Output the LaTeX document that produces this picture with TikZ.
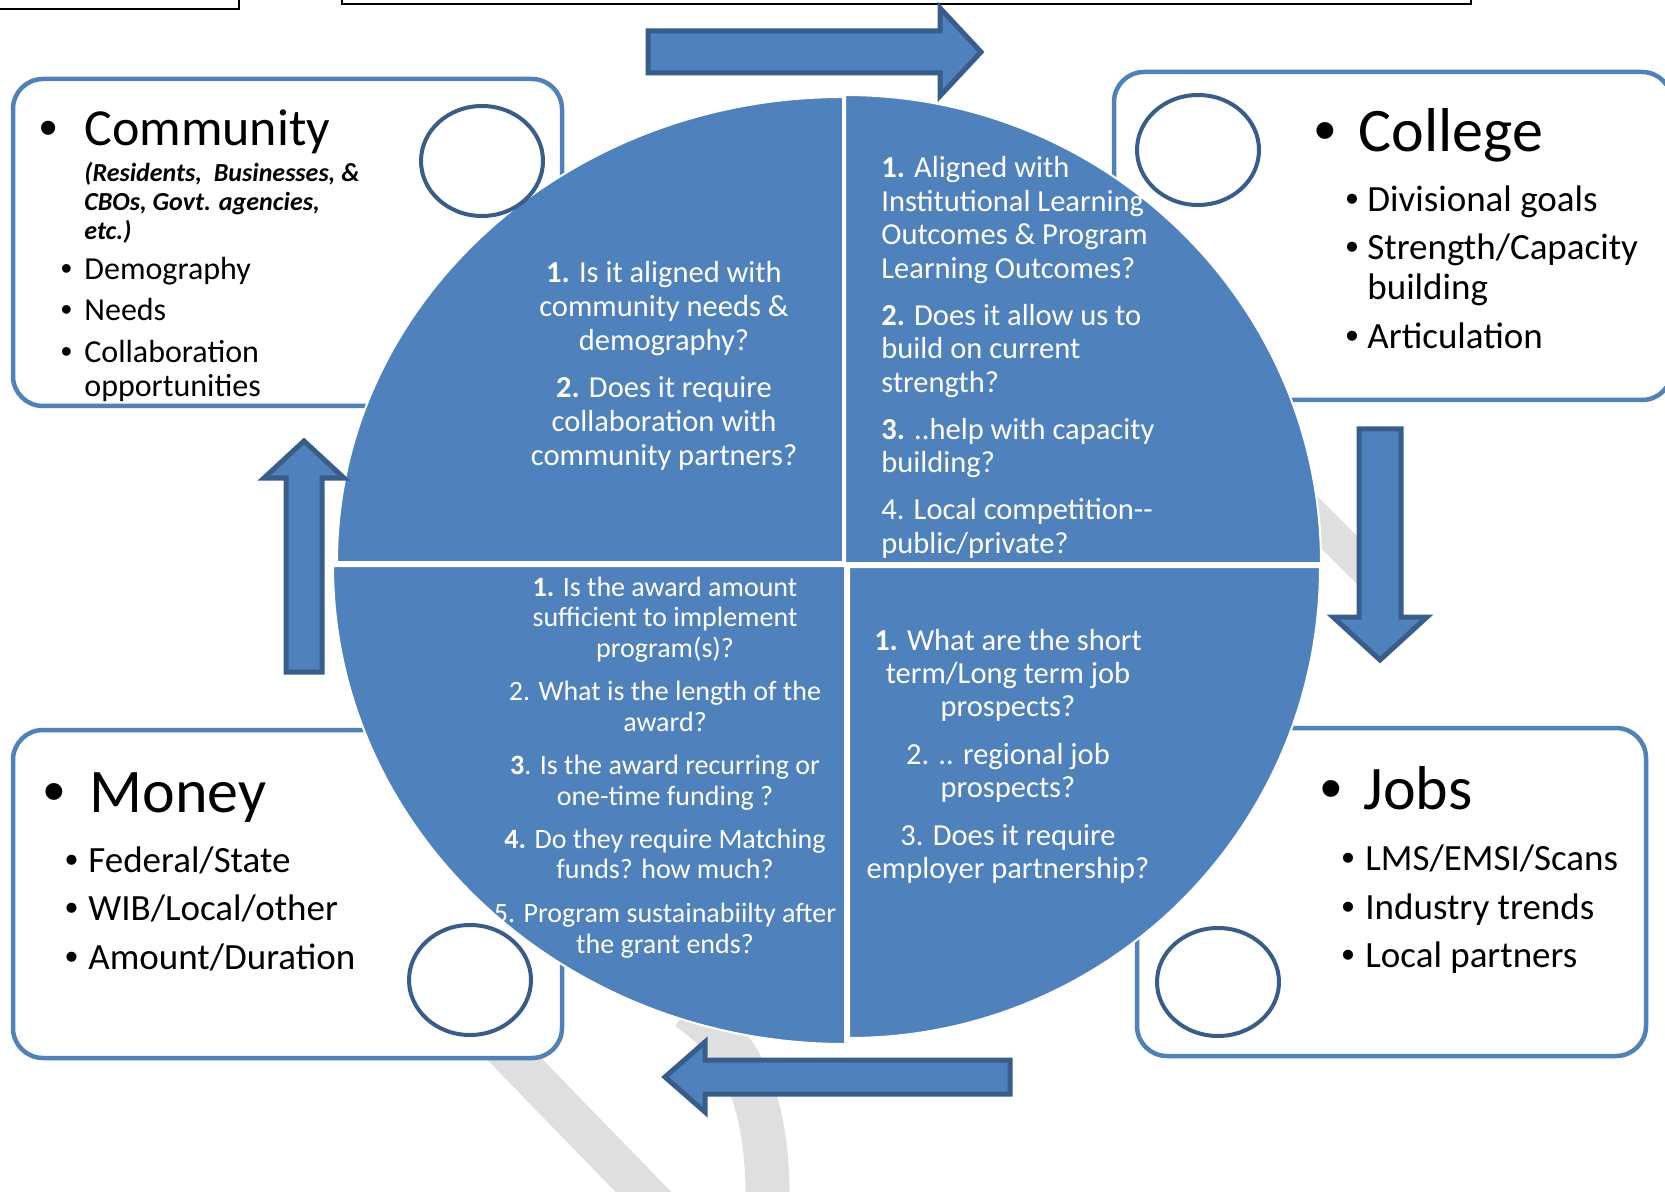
\documentclass[tikz,border=0pt]{standalone}
\usepackage{fontspec}
\setmainfont{Carlito}
\newfontfamily\bulletfont{Liberation Sans}
\usepackage{xcolor}
\definecolor{pieblue}{HTML}{4F81BD}
\definecolor{edgeblue}{HTML}{385D8A}
\definecolor{markgray}{HTML}{DFDFDF}
\newcommand{\qcenter}[1]{\begin{tabular}[t]{@{}c@{}}#1\end{tabular}}
\newcommand{\qleft}[1]{\begin{tabular}[t]{@{}l@{}}#1\end{tabular}}
\tikzset{
  line join=miter,
}
\tikzstyle{every node}=[inner sep=0pt]
\tikzstyle{frame}=[draw=black,line width=1.25pt]
\tikzstyle{box}=[draw=pieblue,line width=2.25pt,fill=white,rounded corners=15pt]
\tikzstyle{ring}=[draw=edgeblue,line width=2pt,fill=white]
\tikzstyle{quad}=[fill=pieblue,draw=white,line width=1pt]
\tikzstyle{blockarrow}=[fill=pieblue,draw=edgeblue,line width=2.5pt]
\tikzstyle{watermark}=[draw=markgray,line width=20pt]
\tikzstyle{head}=[anchor=base west,font=\fontsize{31}{37}\selectfont]
\tikzstyle{bighead}=[anchor=base,font=\bulletfont\fontsize{31}{37}\selectfont]
\tikzstyle{item}=[anchor=base west,font=\fontsize{18.5}{20}\selectfont]
\tikzstyle{itemdot}=[anchor=base,font=\bulletfont\fontsize{18.5}{20}\selectfont]
\tikzstyle{question}=[text=white,font=\fontsize{15.25}{17}\selectfont]

\begin{document}
\begin{tikzpicture}[x=0.5pt,y=-0.5pt]
    \useasboundingbox (0,0) rectangle (1665,1192);
    % watermark, mostly hidden
    \draw[watermark] (395,936) -- (690,1240);
    \draw[watermark,line width=22pt] (688,1008) .. controls (748,1050) and (772,1110) .. (767,1230);
    \draw[watermark,line width=17pt] (1300,503) -- (1385,588);
    % frames cut off at the top
    \draw[frame] (-10,-10) rectangle (239,9);
    \draw[frame] (342,-10) rectangle (1471,4);
    % corner boxes
    \draw[box] (13,79) rectangle (562,406);
    \draw[box] (1114,72) rectangle (1672,400);
    \draw[box] (13,730) rectangle (562,1058);
    \draw[box] (1137,728) rectangle (1646,1056);
    % pie quadrants
    \path[quad] (843,562) -- (337,562) arc[start angle=180,end angle=270,x radius=506,y radius=465] -- cycle;
    \path[quad] (845,563) -- (845,95) arc[start angle=270,end angle=360,x radius=476,y radius=468] -- cycle;
    \path[quad] (845,566) -- (333,566) arc[start angle=180,end angle=90,x radius=512,y radius=478] -- cycle;
    \path[quad] (849,567) -- (1320,567) arc[start angle=0,end angle=90,x radius=471,y radius=471] -- cycle;
    % rings
    \draw[ring] (482,161) ellipse[x radius=61,y radius=55];
    \draw[ring] (1198,150) ellipse[x radius=61,y radius=55];
    \draw[ring] (470,980) ellipse[x radius=61,y radius=55];
    \draw[ring] (1218,982) ellipse[x radius=61,y radius=54];
    % block arrows
    \draw[blockarrow] (648,31) -- (940,31) -- (940,8) -- (981,52) -- (940,96) -- (940,73) -- (648,73) -- cycle;
    \draw[blockarrow] (1359,429) -- (1401,429) -- (1401,617) -- (1427,617) -- (1380,660) -- (1333,617) -- (1359,617) -- cycle;
    \draw[blockarrow] (1010,1060) -- (1010,1094) -- (705,1094) -- (705,1112) -- (665,1077) -- (705,1042) -- (705,1060) -- cycle;
    \draw[blockarrow] (286,672) -- (322,672) -- (322,478) -- (344,478) -- (304,441) -- (264,478) -- (286,478) -- cycle;

    % Community
    \node[anchor=base,font=\bulletfont\fontsize{26}{30}\selectfont] (comm-dot) at (48.5,146) {•};
    \node[anchor=base west,font=\fontsize{26}{30}\selectfont] (comm-head) at (84,146) {Community};
    \node[anchor=base west,font=\bfseries\itshape\fontsize{13}{14.5}\selectfont] (comm-note) at (84,182)
      {\qleft{(Residents,\ \ Businesses, \&\\ CBOs, Govt. agencies,\\ etc.)}};
    \node[anchor=base,font=\bulletfont\fontsize{16}{16.5}\selectfont] (comm-d1) at (66.5,280) {•};
    \node[anchor=base,font=\bulletfont\fontsize{16}{16.5}\selectfont] (comm-d2) at (66.5,321) {•};
    \node[anchor=base,font=\bulletfont\fontsize{16}{16.5}\selectfont] (comm-d3) at (66.5,363) {•};
    \node[anchor=base west,font=\fontsize{16}{16.5}\selectfont] (comm-i1) at (84,280) {Demography};
    \node[anchor=base west,font=\fontsize{16}{16.5}\selectfont] (comm-i2) at (84,321) {Needs};
    \node[anchor=base west,font=\fontsize{16}{17}\selectfont] (comm-i3) at (84,363) {\qleft{Collaboration\\ opportunities}};

    % College
    \node[bighead] (coll-dot) at (1325,152) {•};
    \node[head] (coll-head) at (1358,152) {College};
    \node[itemdot] (coll-d1) at (1352,212) {•};
    \node[itemdot] (coll-d2) at (1352,260) {•};
    \node[itemdot] (coll-d3) at (1352,349) {•};
    \node[item] (coll-i1) at (1367,212) {Divisional goals};
    \node[item] (coll-i2) at (1367,260) {\qleft{Strength/Capacity\\ building}};
    \node[item] (coll-i3) at (1367,349) {Articulation};

    % Money
    \node[bighead] (money-dot) at (54.5,812) {•};
    \node[head] (money-head) at (89,812) {Money};
    \node[itemdot] (money-d1) at (71.5,872) {•};
    \node[itemdot] (money-d2) at (71.5,920) {•};
    \node[itemdot] (money-d3) at (71.5,969) {•};
    \node[item] (money-i1) at (88,872) {Federal/State};
    \node[item] (money-i2) at (88,920) {WIB/Local/other};
    \node[item] (money-i3) at (88,969) {Amount/Duration};

    % Jobs
    \node[bighead] (jobs-dot) at (1331,809) {•};
    \node[head] (jobs-head) at (1363,809) {Jobs};
    \node[itemdot] (jobs-d1) at (1348,870) {•};
    \node[itemdot] (jobs-d2) at (1348,919) {•};
    \node[itemdot] (jobs-d3) at (1348,967) {•};
    \node[item] (jobs-i1) at (1365,870) {LMS/EMSI/Scans};
    \node[item] (jobs-i2) at (1365,919) {Industry trends};
    \node[item] (jobs-i3) at (1365,967) {Local partners};

    % questions in the pie
    \node[question,anchor=base] (q-comm) at (664,283) {\qcenter{\textbf{1.} Is it aligned with\\ community needs \&\\ demography?\\[6.5pt]
      \textbf{2.} Does it require\\ collaboration with\\ community partners?}};
    \node[question,anchor=base west,font=\fontsize{15.25}{16.75}\selectfont] (q-coll) at (881,178) {\qleft{\textbf{1.} Aligned with\\ Institutional Learning\\ Outcomes \& Program\\ Learning Outcomes?\\[6.75pt]
      \textbf{2.} Does it allow us to\\ build on current\\ strength?\\[6.75pt]
      \textbf{3.} ..help with capacity\\ building?\\[6.75pt]
      4. Local competition-{}-\\ public/private?}};
    \node[question,anchor=base,font=\fontsize{14}{15.25}\selectfont] (q-money) at (665,596) {\qcenter{\textbf{1.} Is the award amount\\ sufficient to implement\\ program(s)?\\[6.5pt]
      2. What is the length of the\\ award?\\[6.5pt]
      \textbf{3}. Is the award recurring or\\ one-time funding ?\\[6.5pt]
      \textbf{4.} Do they require Matching\\ funds? how much?\\[6.5pt]
      5. Program sustainabiilty after\\ the grant ends?}};
    \node[question,anchor=base,font=\fontsize{15.25}{16.5}\selectfont] (q-jobs) at (1008,650) {\qcenter{\textbf{1.} What are the short\\ term/Long term job\\ prospects?\\[7.5pt]
      2. .. regional job\\ prospects?\\[7.5pt]
      3. Does it require\\ employer partnership?}};
\end{tikzpicture}
\end{document}
